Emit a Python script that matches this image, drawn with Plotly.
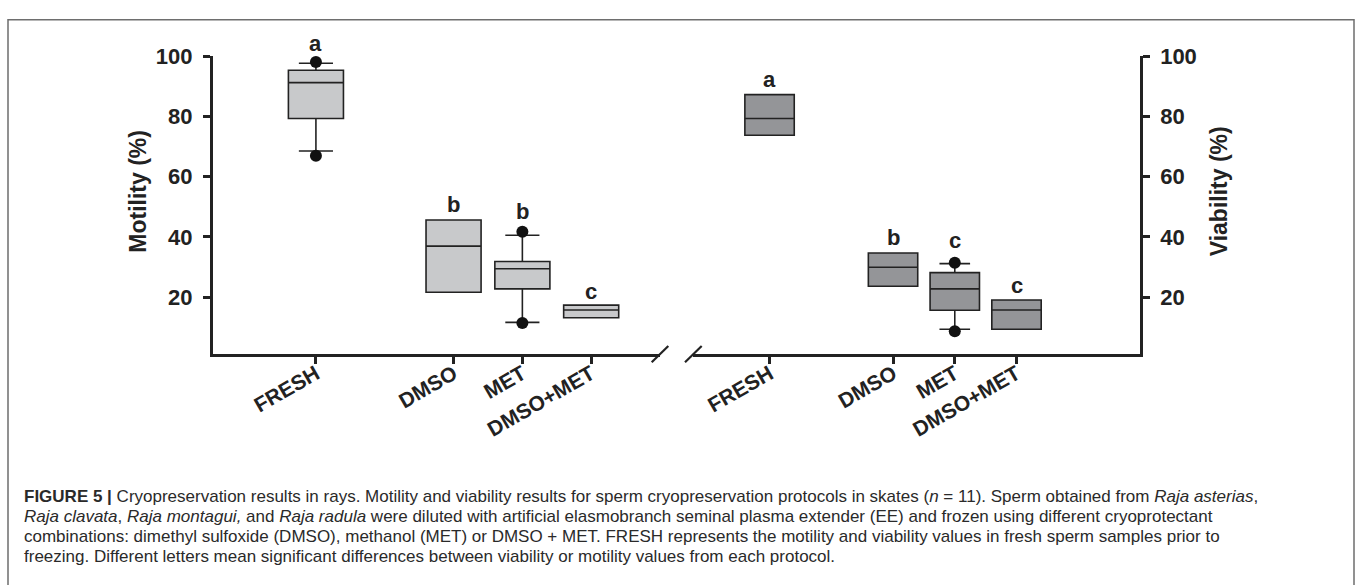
import plotly.graph_objects as go

W, H = 1360, 585

# ---------------- data ----------------
groups = ["FRESH", "DMSO", "MET", "DMSO+MET"]
slots = [0, 2, 3, 4]  # category slot index on each axis (gap after FRESH)

# Motility (%)
mot_q1 = [79.3, 21.6, 22.7, 13.1]
mot_med = [91.2, 36.9, 29.4, 15.7]
mot_q3 = [95.3, 45.6, 31.8, 17.3]
mot_lo = [68.5, 21.6, 11.6, 13.1]
mot_hi = [97.6, 45.6, 40.5, 17.3]
mot_out_grp = ["FRESH", "FRESH", "MET", "MET"]
mot_out_val = [66.9, 98.0, 11.4, 41.7]
mot_letters = ["a", "b", "b", "c"]

# Viability (%)
via_q1 = [73.7, 23.6, 15.6, 9.3]
via_med = [79.3, 29.9, 22.7, 15.7]
via_q3 = [87.2, 34.6, 28.1, 19.0]
via_lo = [73.7, 23.6, 9.3, 9.3]
via_hi = [87.2, 34.6, 31.1, 19.0]
via_out_grp = ["MET", "MET"]
via_out_val = [8.6, 31.4]
via_letters = ["a", "b", "c", "c"]

y_ticks = [20, 40, 60, 80, 100]

caption_lines = [
    "<b>FIGURE 5 |</b> Cryopreservation results in rays. Motility and viability results for sperm cryopreservation protocols in skates (<i>n</i> = 11). Sperm obtained from <i>Raja asterias</i>,",
    "<i>Raja clavata</i>, <i>Raja montagui,</i> and <i>Raja radula</i> were diluted with artificial elasmobranch seminal plasma extender (EE) and frozen using different cryoprotectant",
    "combinations: dimethyl sulfoxide (DMSO), methanol (MET) or DMSO + MET. FRESH represents the motility and viability values in fresh sperm samples prior to",
    "freezing. Different letters mean significant differences between viability or motility values from each protocol.",
]

# ---------------- style ----------------
INK = "#222222"
FONT = "Liberation Sans, Arial, Helvetica, sans-serif"
LIGHT = "#c8c9cb"
DARK = "#949598"

def px(xp):
    return xp / W

def py(yp):
    return 1 - yp / H

pos = dict(zip(groups, slots))

fig = go.Figure()

def add_panel(q1, med, q3, lo, hi, out_grp, out_val, fill, xa, ya):
    fig.add_trace(go.Box(
        x=slots, q1=q1, median=med, q3=q3, lowerfence=lo, upperfence=hi,
        width=0.8, whiskerwidth=0.62, fillcolor=fill,
        line=dict(color=INK, width=1.6),
        xaxis=xa, yaxis=ya, showlegend=False, hoverinfo="skip",
        boxpoints=False,
    ))
    fig.add_trace(go.Scatter(
        x=[pos[g] for g in out_grp], y=out_val, mode="markers",
        marker=dict(color="#111111", size=12),
        xaxis=xa, yaxis=ya, showlegend=False, hoverinfo="skip",
        cliponaxis=False,
    ))

add_panel(mot_q1, mot_med, mot_q3, mot_lo, mot_hi, mot_out_grp, mot_out_val, LIGHT, "x", "y")
add_panel(via_q1, via_med, via_q3, via_lo, via_hi, via_out_grp, via_out_val, DARK, "x2", "y2")

# significance letters, anchored at the top of each group and lifted in px
def tops(hi, out_grp, out_val):
    t = list(hi)
    for g, v in zip(out_grp, out_val):
        i = groups.index(g)
        t[i] = max(t[i], v)
    return t

mot_shift = [19, 15, 20, 14]
via_shift = [15, 16, 22, 15]
for xr, yr, lets, tp, sh in [
    ("x", "y", mot_letters, tops(mot_hi, mot_out_grp, mot_out_val), mot_shift),
    ("x2", "y2", via_letters, tops(via_hi, via_out_grp, via_out_val), via_shift),
]:
    for s, l, t, d in zip(slots, lets, tp, sh):
        fig.add_annotation(x=s, y=t, xref=xr, yref=yr, text=l, showarrow=False,
                           yanchor="middle", yshift=d,
                           font=dict(family=FONT, size=22, color=INK, weight="bold"))

# ---------------- axes ----------------
ydom = [py(349), py(45)]
yrange = [1.14, 100]
axis_common = dict(showline=True, linewidth=2.5, linecolor=INK, ticks="outside",
                   ticklen=7, tickwidth=2.5, tickcolor=INK, showgrid=False,
                   zeroline=False, fixedrange=True)

fig.update_layout(
    width=W, height=H,
    margin=dict(l=0, r=0, t=0, b=0),
    paper_bgcolor="white", plot_bgcolor="rgba(0,0,0,0)",
    xaxis=dict(domain=[px(212.7), px(660)], range=[-1.5, 5.0], anchor="y",
               tickvals=slots, ticktext=groups, tickangle=-30, ticklabelstandoff=-10,
               tickfont=dict(family=FONT, size=21, color=INK, weight="bold"),
               **axis_common),
    xaxis2=dict(domain=[px(693), px(1140)], range=[-1.24, 6.0], anchor="y2",
                tickvals=slots, ticktext=groups, tickangle=-30, ticklabelstandoff=-10,
                tickfont=dict(family=FONT, size=21, color=INK, weight="bold"),
                **axis_common),
    yaxis=dict(domain=ydom, range=yrange, anchor="x", side="left",
               tickvals=y_ticks, ticklabelstandoff=6,
               tickfont=dict(family=FONT, size=22, color=INK, weight="bold"),
               **axis_common),
    yaxis2=dict(domain=ydom, range=yrange, anchor="x2", side="right",
                tickvals=y_ticks, ticklabelstandoff=6,
                tickfont=dict(family=FONT, size=22, color=INK, weight="bold"),
                **axis_common),
)

# axis titles
fig.add_annotation(x=px(138), y=py(183.5), xref="paper", yref="paper", text="Motility (%)",
                   textangle=-90, showarrow=False, xanchor="center", yanchor="middle",
                   font=dict(family=FONT, size=23, color=INK, weight="bold"))
fig.add_annotation(x=px(1219), y=py(183), xref="paper", yref="paper", text="Viability (%)",
                   textangle=-90, showarrow=False, xanchor="center", yanchor="middle",
                   font=dict(family=FONT, size=23, color=INK, weight="bold"))

# axis break marks
for x0, x1 in [(651.7, 668.3), (685, 701.7)]:
    fig.add_shape(type="line", xref="paper", yref="paper",
                  x0=px(x0), y0=py(357.5), x1=px(x1), y1=py(341),
                  line=dict(color=INK, width=2.2))

# figure frame
fig.add_shape(type="path", xref="paper", yref="paper",
              path=f"M {px(8)} {py(H + 5)} L {px(8)} {py(8)} L {px(1354)} {py(8)} L {px(1354)} {py(H + 5)}",
              line=dict(color="#6e6e6e", width=1.5))

# caption
cap_y = [494.5, 515, 535.5, 556]
for t, yy in zip(caption_lines, cap_y):
    fig.add_annotation(x=px(22), y=py(yy), xref="paper", yref="paper", text=t,
                       showarrow=False, xanchor="left", yanchor="middle", align="left",
                       font=dict(family=FONT, size=17, color="#2a2a2a"))

fig.write_html("out.html")
